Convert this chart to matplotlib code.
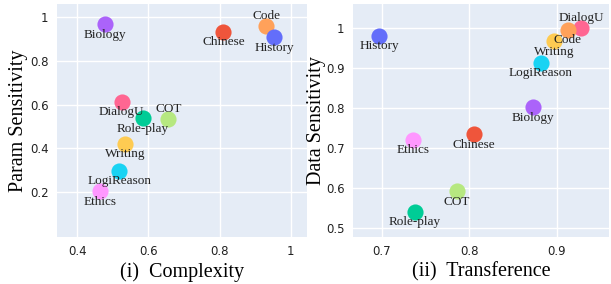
import matplotlib
matplotlib.use("Agg")
import matplotlib.pyplot as plt
from matplotlib.ticker import FuncFormatter

tasks_left = ["Biology", "Chinese", "Code", "History", "DialogU", "Role-play", "COT", "Writing", "LogiReason", "Ethics"]
complexity = [0.478, 0.811, 0.931, 0.953, 0.525, 0.584, 0.656, 0.534, 0.518, 0.464]
param_sens = [0.969, 0.934, 0.960, 0.908, 0.613, 0.537, 0.533, 0.420, 0.296, 0.204]
pos_left = ["below", "below", "above", "below", "below", "below", "above", "below", "below", "below"]

tasks_right = ["History", "DialogU", "Code", "Writing", "LogiReason", "Biology", "Chinese", "Ethics", "COT", "Role-play"]
transference = [0.697, 0.928, 0.913, 0.897, 0.882, 0.873, 0.805, 0.736, 0.786, 0.738]
data_sens = [0.981, 1.000, 0.996, 0.968, 0.914, 0.802, 0.734, 0.720, 0.592, 0.540]
pos_right = ["below", "above", "below", "below", "below", "below", "below", "below", "below", "below"]

colors = {
    "History": "#636EFA", "Chinese": "#EF553B", "Role-play": "#00CC96", "Biology": "#AB63FA",
    "Code": "#FFA15A", "LogiReason": "#19D3F3", "DialogU": "#FF6692", "COT": "#B6E880",
    "Ethics": "#FF97FF", "Writing": "#FECB52",
}

W, H = 611, 284
fig = plt.figure(figsize=(W / 100, H / 100), dpi=100)
fig.patch.set_facecolor("white")

serif = ["Liberation Serif", "DejaVu Serif"]
fmt = FuncFormatter(lambda v, p: f"{v:g}")


def panel(rect, names, xs, ys, pos, xlim, ylim, xticks, yticks, xlabel, ylabel, ylabel_x):
    ax = fig.add_axes(rect)
    ax.set_facecolor("#E5ECF6")
    for s in ax.spines.values():
        s.set_visible(False)
    ax.set_xlim(*xlim)
    ax.set_ylim(*ylim)
    ax.set_xticks(xticks)
    ax.set_yticks(yticks)
    ax.xaxis.set_major_formatter(fmt)
    ax.yaxis.set_major_formatter(fmt)
    ax.grid(True, color="white", linewidth=1.0)
    ax.set_axisbelow(True)
    ax.tick_params(length=0, labelsize=8.5, colors="#222222", pad=6)
    for n, x, y, p in zip(names, xs, ys, pos):
        ax.scatter([x], [y], s=135, color=colors[n], zorder=3, linewidths=0)
        dy = 7.5 if p == "above" else -7.5
        ax.annotate(n, (x, y), xytext=(0, dy), textcoords="offset points",
                    ha="center", va="center", fontsize=9.5, family=serif,
                    color="#222222", zorder=4)
    ax.set_xlabel(xlabel, fontsize=14.5, family=serif, labelpad=2.5)
    ax.set_ylabel(ylabel, fontsize=14.5, family=serif)
    ax.yaxis.set_label_coords(ylabel_x, 0.5)
    return ax


panel([57 / W, 47 / H, 250 / W, 233 / H], tasks_left, complexity, param_sens, pos_left,
      (0.343, 1.046), (-0.006, 1.061), [0.4, 0.6, 0.8, 1.0], [0.2, 0.4, 0.6, 0.8, 1.0],
      "(i)  Complexity", "Param Sensitivity", -0.116)

panel([353 / W, 47 / H, 256 / W, 233 / H], tasks_right, transference, data_sens, pos_right,
      (0.667, 0.960), (0.477, 1.061), [0.7, 0.8, 0.9], [0.5, 0.6, 0.7, 0.8, 0.9, 1.0],
      "(ii)  Transference", "Data Sensitivity", -0.105)

fig.savefig("out.png", dpi=100, facecolor="white")
